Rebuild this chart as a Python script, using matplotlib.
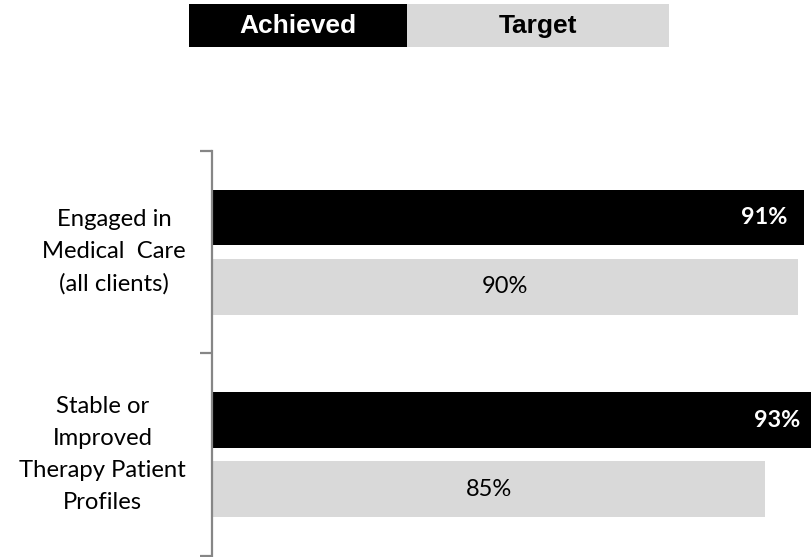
import matplotlib
matplotlib.use("Agg")
import matplotlib.pyplot as plt
from matplotlib.patches import Rectangle
import numpy as np

categories = ["Engaged in\nMedical  Care\n(all clients)",
              "Stable or\nImproved\nTherapy Patient\nProfiles"]
achieved = [91, 93]
target = [90, 85]
legend_labels = ["Achieved", "Target"]

BLACK = "#000000"
GRAY = "#D9D9D9"
SPINE = "#868686"
LABEL_FONT = ["Lato", "DejaVu Sans"]

W, H = 811, 557
fig = plt.figure(figsize=(W / 100, H / 100), dpi=100)
ax = fig.add_axes([212 / W, 1 / H, (W - 212) / W, (556 - 150.7) / H])

y = np.arange(len(categories))
off = 0.171
h = 0.275
ax.barh(y - off, achieved, height=h, color=BLACK, linewidth=0)
ax.barh(y + off, target, height=h, color=GRAY, linewidth=0)

ax.set_xlim(0, (W - 212) / 6.508)
ax.set_ylim(len(categories) - 0.5, -0.5)

for yi, v in zip(y, achieved):
    ax.annotate(f"{v}%", xy=(v, yi - off), xytext=(-17, 0), textcoords="offset pixels",
                ha="right", va="center", color="white", fontsize=16.8,
                fontweight="bold", family=LABEL_FONT, annotation_clip=False)
for yi, v in zip(y, target):
    ax.text(v / 2, yi + off, f"{v}%", ha="center", va="center", color="black",
            fontsize=17, family=LABEL_FONT)

for yi, c in zip(y, categories):
    ax.text((186 - 212) / (W - 212), yi, c, transform=ax.get_yaxis_transform(),
            ha="right", va="center", multialignment="center", fontsize=17.2,
            family=LABEL_FONT, linespacing=1.65, color="black")

ax.set_yticks(np.arange(len(categories) + 1) - 0.5)
ax.set_yticklabels([])
ax.set_xticks([])
ax.tick_params(axis="y", direction="out", length=9, width=1.6, color=SPINE)
for s in ["top", "right", "bottom"]:
    ax.spines[s].set_visible(False)
ax.spines["left"].set_color(SPINE)
ax.spines["left"].set_linewidth(1.6)

# Legend drawn as two adjoining boxes
x0, x1, x2 = 189, 407, 669
yt, yb = 4, 47
fig.add_artist(Rectangle((x0 / W, 1 - yb / H), (x1 - x0) / W, (yb - yt) / H,
                         transform=fig.transFigure, color=BLACK, lw=0))
fig.add_artist(Rectangle((x1 / W, 1 - yb / H), (x2 - x1) / W, (yb - yt) / H,
                         transform=fig.transFigure, color=GRAY, lw=0))
fig.text((x0 + x1) / 2 / W, 1 - 26 / H, legend_labels[0], ha="center", va="center",
         color="white", fontsize=19, fontweight="bold", family="Liberation Sans")
fig.text((x1 + x2) / 2 / W, 1 - 26 / H, legend_labels[1], ha="center", va="center",
         color="black", fontsize=19, fontweight="bold", family="Liberation Sans")

fig.savefig("out.png", dpi=100)
